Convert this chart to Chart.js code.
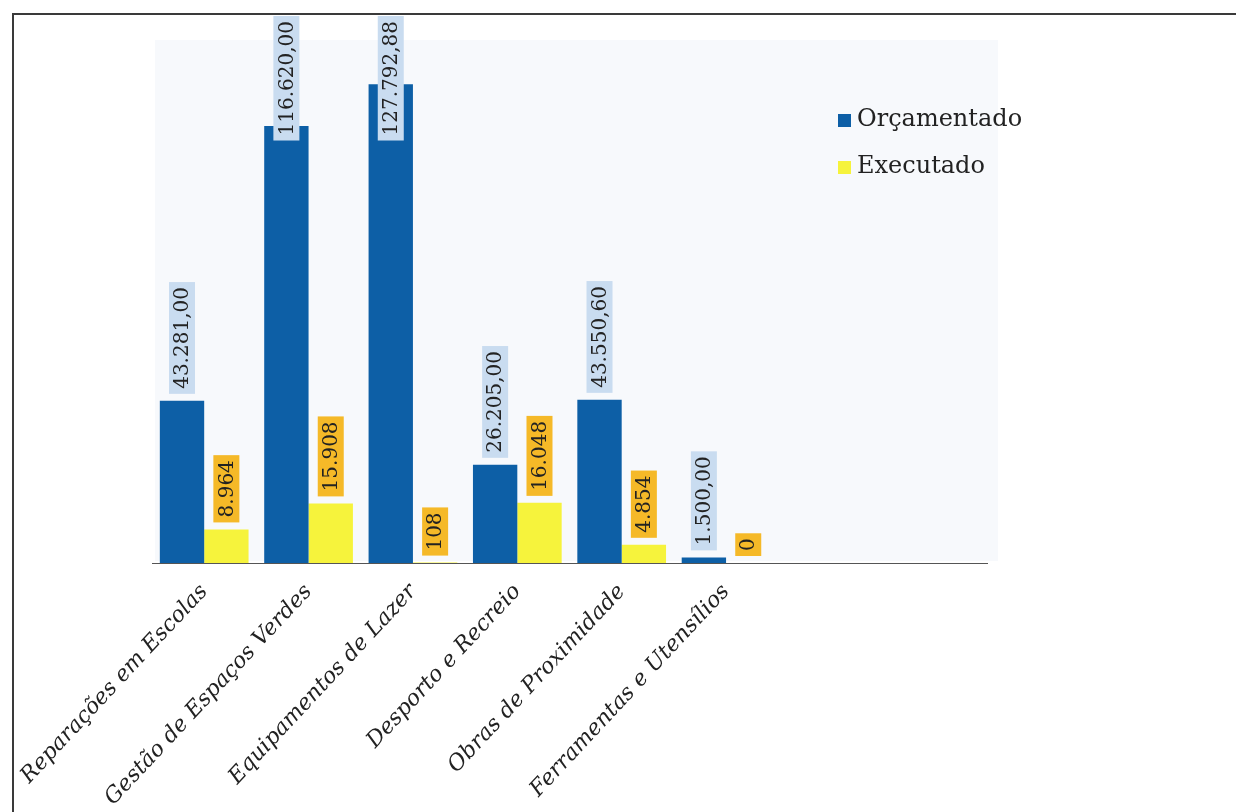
<!DOCTYPE html>
<html>
<head>
<meta charset="utf-8">
<script src="https://cdn.jsdelivr.net/npm/chart.js@4"></script>
<style>
html, body { margin: 0; padding: 0; background: #fff; }
#wrap { position: relative; width: 1236px; height: 812px; }
#frame { position: absolute; left: 12px; top: 13px; right: 0; bottom: 0;
  border-top: 2px solid #3a3a3a; border-left: 2px solid #3a3a3a; pointer-events: none; }
</style>
</head>
<body>
<div id="wrap">
  <canvas id="budgetChart" width="1236" height="812"></canvas>
  <div id="frame"></div>
</div>
<script>
// categorias (as duas últimas posições ficam vazias no original)
const categories = [
    'Reparações em Escolas',
    'Gestão de Espaços Verdes',
    'Equipamentos de Lazer',
    'Desporto e Recreio',
    'Obras de Proximidade',
    'Ferramentas e Utensílios'
];
const emptySlots = ['', ''];
const orcamentado = [43281.00, 116620.00, 127792.88, 26205.00, 43550.60, 1500.00];
const executado = [8964, 15908, 108, 16048, 4854, 0];
const seriesNames = ['Orçamentado', 'Executado'];

const SERIF = '"DejaVu Serif", "Liberation Serif", serif';

function fmtPt(v, decimals) {
    const parts = v.toFixed(decimals).split('.');
    const int = parts[0].replace(/\B(?=(\d{3})+(?!\d))/g, '.');
    return parts[1] ? int + ',' + parts[1] : int;
}

const backgroundTint = {
    id: 'backgroundTint',
    beforeDatasetsDraw(chart) {
        const { ctx, chartArea: a } = chart;
        ctx.save();
        ctx.fillStyle = '#f7f9fc';
        ctx.fillRect(a.left + 3, a.top + 24, a.right - a.left + 8, a.bottom - a.top - 26);
        ctx.restore();
    }
};

const valueLabels = {
    id: 'valueLabels',
    afterDatasetsDraw(chart) {
        const { ctx, chartArea: area } = chart;
        chart.data.datasets.forEach((ds, di) => {
            const meta = chart.getDatasetMeta(di);
            meta.data.forEach((bar, i) => {
                const v = ds.data[i];
                if (v == null) return;
                const text = fmtPt(v, ds.decimals);
                ctx.save();
                ctx.font = '20px ' + SERIF;
                const tw = ctx.measureText(text).width;
                const h = tw + 10, w = 26;
                let bottom = bar.y - 7;
                let top = bottom - h;
                if (top < area.top) { top = area.top; bottom = top + h; }
                ctx.fillStyle = ds.labelBg;
                ctx.fillRect(bar.x - w / 2, top, w, h);
                ctx.translate(bar.x, (top + bottom) / 2);
                ctx.rotate(-Math.PI / 2);
                ctx.fillStyle = '#222';
                ctx.textAlign = 'center';
                ctx.textBaseline = 'middle';
                ctx.fillText(text, 0, 1);
                ctx.restore();
            });
        });
    }
};

const sideLegend = {
    id: 'sideLegend',
    afterDraw(chart) {
        const ctx = chart.ctx;
        ctx.save();
        ctx.font = '24px ' + SERIF;
        ctx.textBaseline = 'middle';
        chart.data.datasets.forEach((ds, i) => {
            const y = 120 + i * 47;
            ctx.fillStyle = ds.backgroundColor;
            ctx.fillRect(838, y - 6, 13, 13);
            ctx.fillStyle = '#222';
            ctx.fillText(ds.label, 857, y);
        });
        ctx.restore();
    }
};

const ctx = document.getElementById('budgetChart').getContext('2d');
new Chart(ctx, {
    type: 'bar',
    data: {
        labels: categories.concat(emptySlots),
        datasets: [{
            label: seriesNames[0],
            data: orcamentado,
            backgroundColor: '#0d5fa6',
            labelBg: '#c9dcf0',
            decimals: 2
        }, {
            label: seriesNames[1],
            data: executado,
            backgroundColor: '#f6f33c',
            labelBg: '#f5b928',
            decimals: 0
        }]
    },
    options: {
        responsive: false,
        animation: false,
        layout: { padding: { left: 152, right: 249, top: 16, bottom: 0 } },
        datasets: { bar: { categoryPercentage: 0.85, barPercentage: 1.0, borderWidth: 0 } },
        plugins: { legend: { display: false }, tooltip: { enabled: false } },
        scales: {
            x: {
                grid: { display: false },
                border: { display: true, color: '#555', width: 1 },
                ticks: {
                    autoSkip: false,
                    minRotation: 47,
                    maxRotation: 47,
                    padding: 8,
                    color: '#222',
                    font: { family: SERIF, style: 'italic', size: 22 }
                },
                afterFit(scale) { scale.height = 249; }
            },
            y: {
                display: false,
                min: 0,
                max: 146000
            }
        }
    },
    plugins: [backgroundTint, valueLabels, sideLegend]
});
</script>
</body>
</html>
